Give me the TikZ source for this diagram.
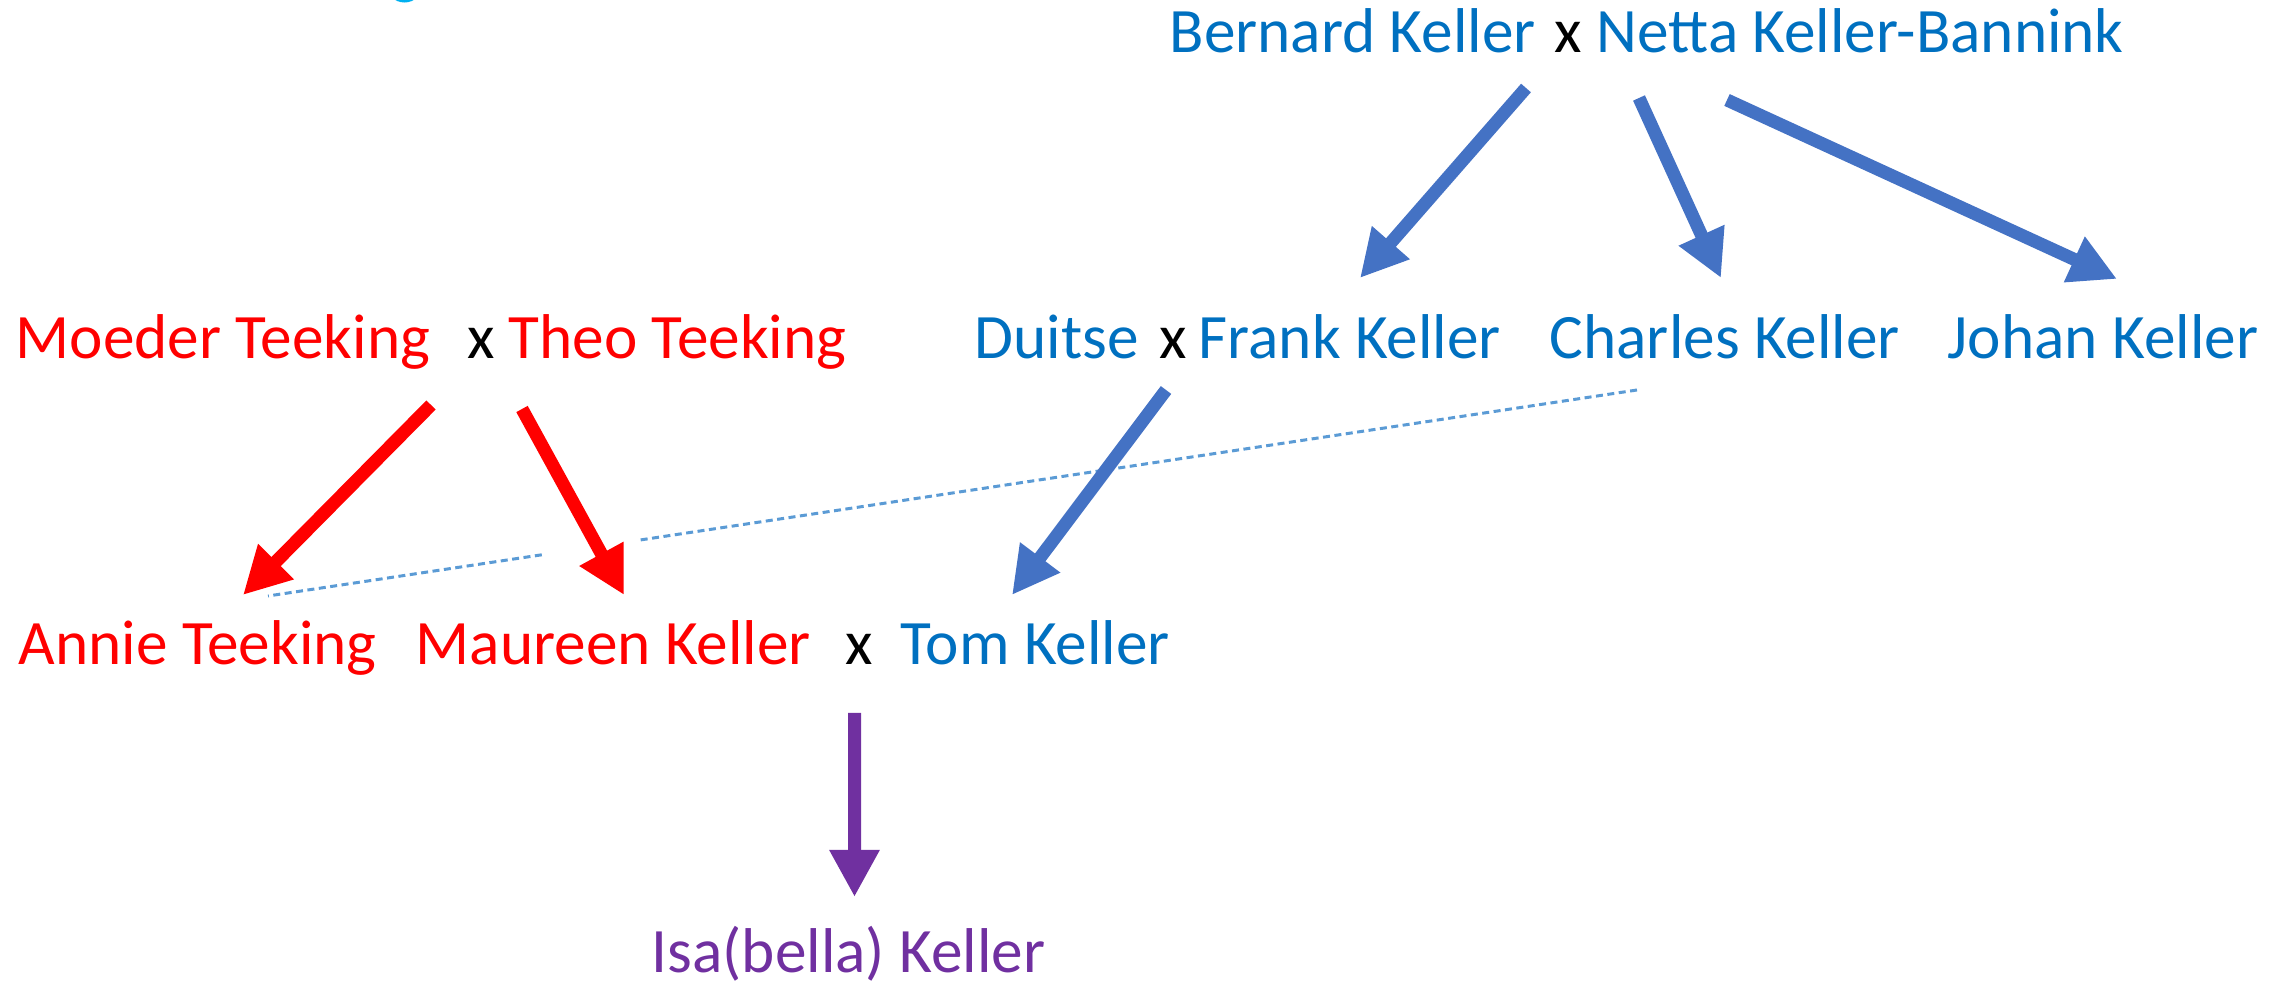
\documentclass[tikz,border=0pt]{standalone}
\usepackage{fontspec}
\setmainfont{Carlito}
\usepackage{tikz}
\usetikzlibrary{arrows.meta, calc}
\definecolor{kellerblue}{HTML}{0070C0}
\definecolor{arrowblue}{HTML}{4472C4}
\definecolor{teekingred}{HTML}{FF0000}
\definecolor{isapurple}{HTML}{7030A0}
\definecolor{linkblue}{HTML}{5B9BD5}
\definecolor{titlecyan}{HTML}{00B0F0}
\tikzstyle{person} = [inner sep=0pt, anchor=base west, font=\fontsize{18}{22}\selectfont]
\tikzstyle{keller} = [person, text=kellerblue]
\tikzstyle{teeking} = [person, text=teekingred]
\tikzstyle{wed} = [person, text=black]
\tikzstyle{child} = [person, text=isapurple]
\tikzstyle{descent} = [line width=0.13cm, -{Triangle[length=0.47cm, width=0.47cm]}]
\tikzstyle{bluearrow} = [descent, draw=arrowblue]
\tikzstyle{redarrow} = [descent, draw=teekingred]
\tikzstyle{purplearrow} = [descent, draw=isapurple]
\tikzstyle{cousin} = [draw=linkblue, line width=0.03cm, dash pattern=on 0.07cm off 0.045cm]

\begin{document}
\begin{tikzpicture}
	\useasboundingbox (0,0) rectangle (22.94,-9.85);
	\begin{scope}
		\clip (0,0) rectangle (22.94,-9.85);
		\draw [titlecyan, line width=0.05cm] (4.045,0.16) circle (0.16);
	\end{scope}
	% grandparents Keller
	\node (bk) [keller] at (11.69,-0.53) {Bernard Keller};
	\node (x1) [wed] at (15.54,-0.53) {x};
	\node (nk) [keller] at (15.96,-0.53) {Netta Keller-Bannink};
	% second row
	\node (mt) [teeking] at (0.15,-3.59) {Moeder Teeking};
	\node (x2) [wed] at (4.67,-3.59) {x};
	\node (tt) [teeking] at (5.08,-3.59) {Theo Teeking};
	\node (du) [keller] at (9.74,-3.59) {Duitse};
	\node (x3) [wed] at (11.59,-3.59) {x};
	\node (fk) [keller] at (11.98,-3.59) {Frank Keller};
	\node (ck) [keller] at (15.49,-3.59) {Charles Keller};
	\node (jk) [keller] at (19.47,-3.59) {Johan Keller};
	% third row
	\node (at) [teeking] at (0.18,-6.65) {Annie Teeking};
	\node (mk) [teeking] at (4.15,-6.65) {Maureen Keller};
	\node (x4) [wed] at (8.45,-6.65) {x};
	\node (tk) [keller] at (9.00,-6.65) {Tom Keller};
	\node (ik) [child] at (6.51,-9.73) {Isa(bella) Keller};

	\draw [cousin] ([shift={(0.88,-0.31)}]ck.base west) -- ($([shift={(0.88,-0.31)}]ck.base west)!0.73!([shift={(2.50,0.69)}]at.base west)$)
		($([shift={(0.88,-0.31)}]ck.base west)!0.80!([shift={(2.50,0.69)}]at.base west)$) -- ([shift={(2.50,0.69)}]at.base west);

	\draw [bluearrow] ([shift={(3.57,-0.35)}]bk.base west) -- ([shift={(1.62,0.81)}]fk.base west);
	\draw [bluearrow] ([shift={(0.43,-0.45)}]nk.base west) -- ([shift={(1.72,0.81)}]ck.base west);
	\draw [bluearrow] ([shift={(1.31,-0.47)}]nk.base west) -- ([shift={(1.70,0.80)}]jk.base west);
	\draw [redarrow] ([shift={(4.16,-0.46)}]mt.base west) -- ([shift={(2.25,0.70)}]at.base west);
	\draw [redarrow] ([shift={(0.14,-0.50)}]tt.base west) -- ([shift={(2.09,0.70)}]mk.base west);
	\draw [bluearrow] ([shift={(-0.32,-0.31)}]fk.base west) -- ([shift={(1.12,0.70)}]tk.base west);
	\draw [purplearrow] ([shift={(0.095,-0.48)}]x4.base west) -- ([shift={(2.035,0.76)}]ik.base west);
\end{tikzpicture}
\end{document}
